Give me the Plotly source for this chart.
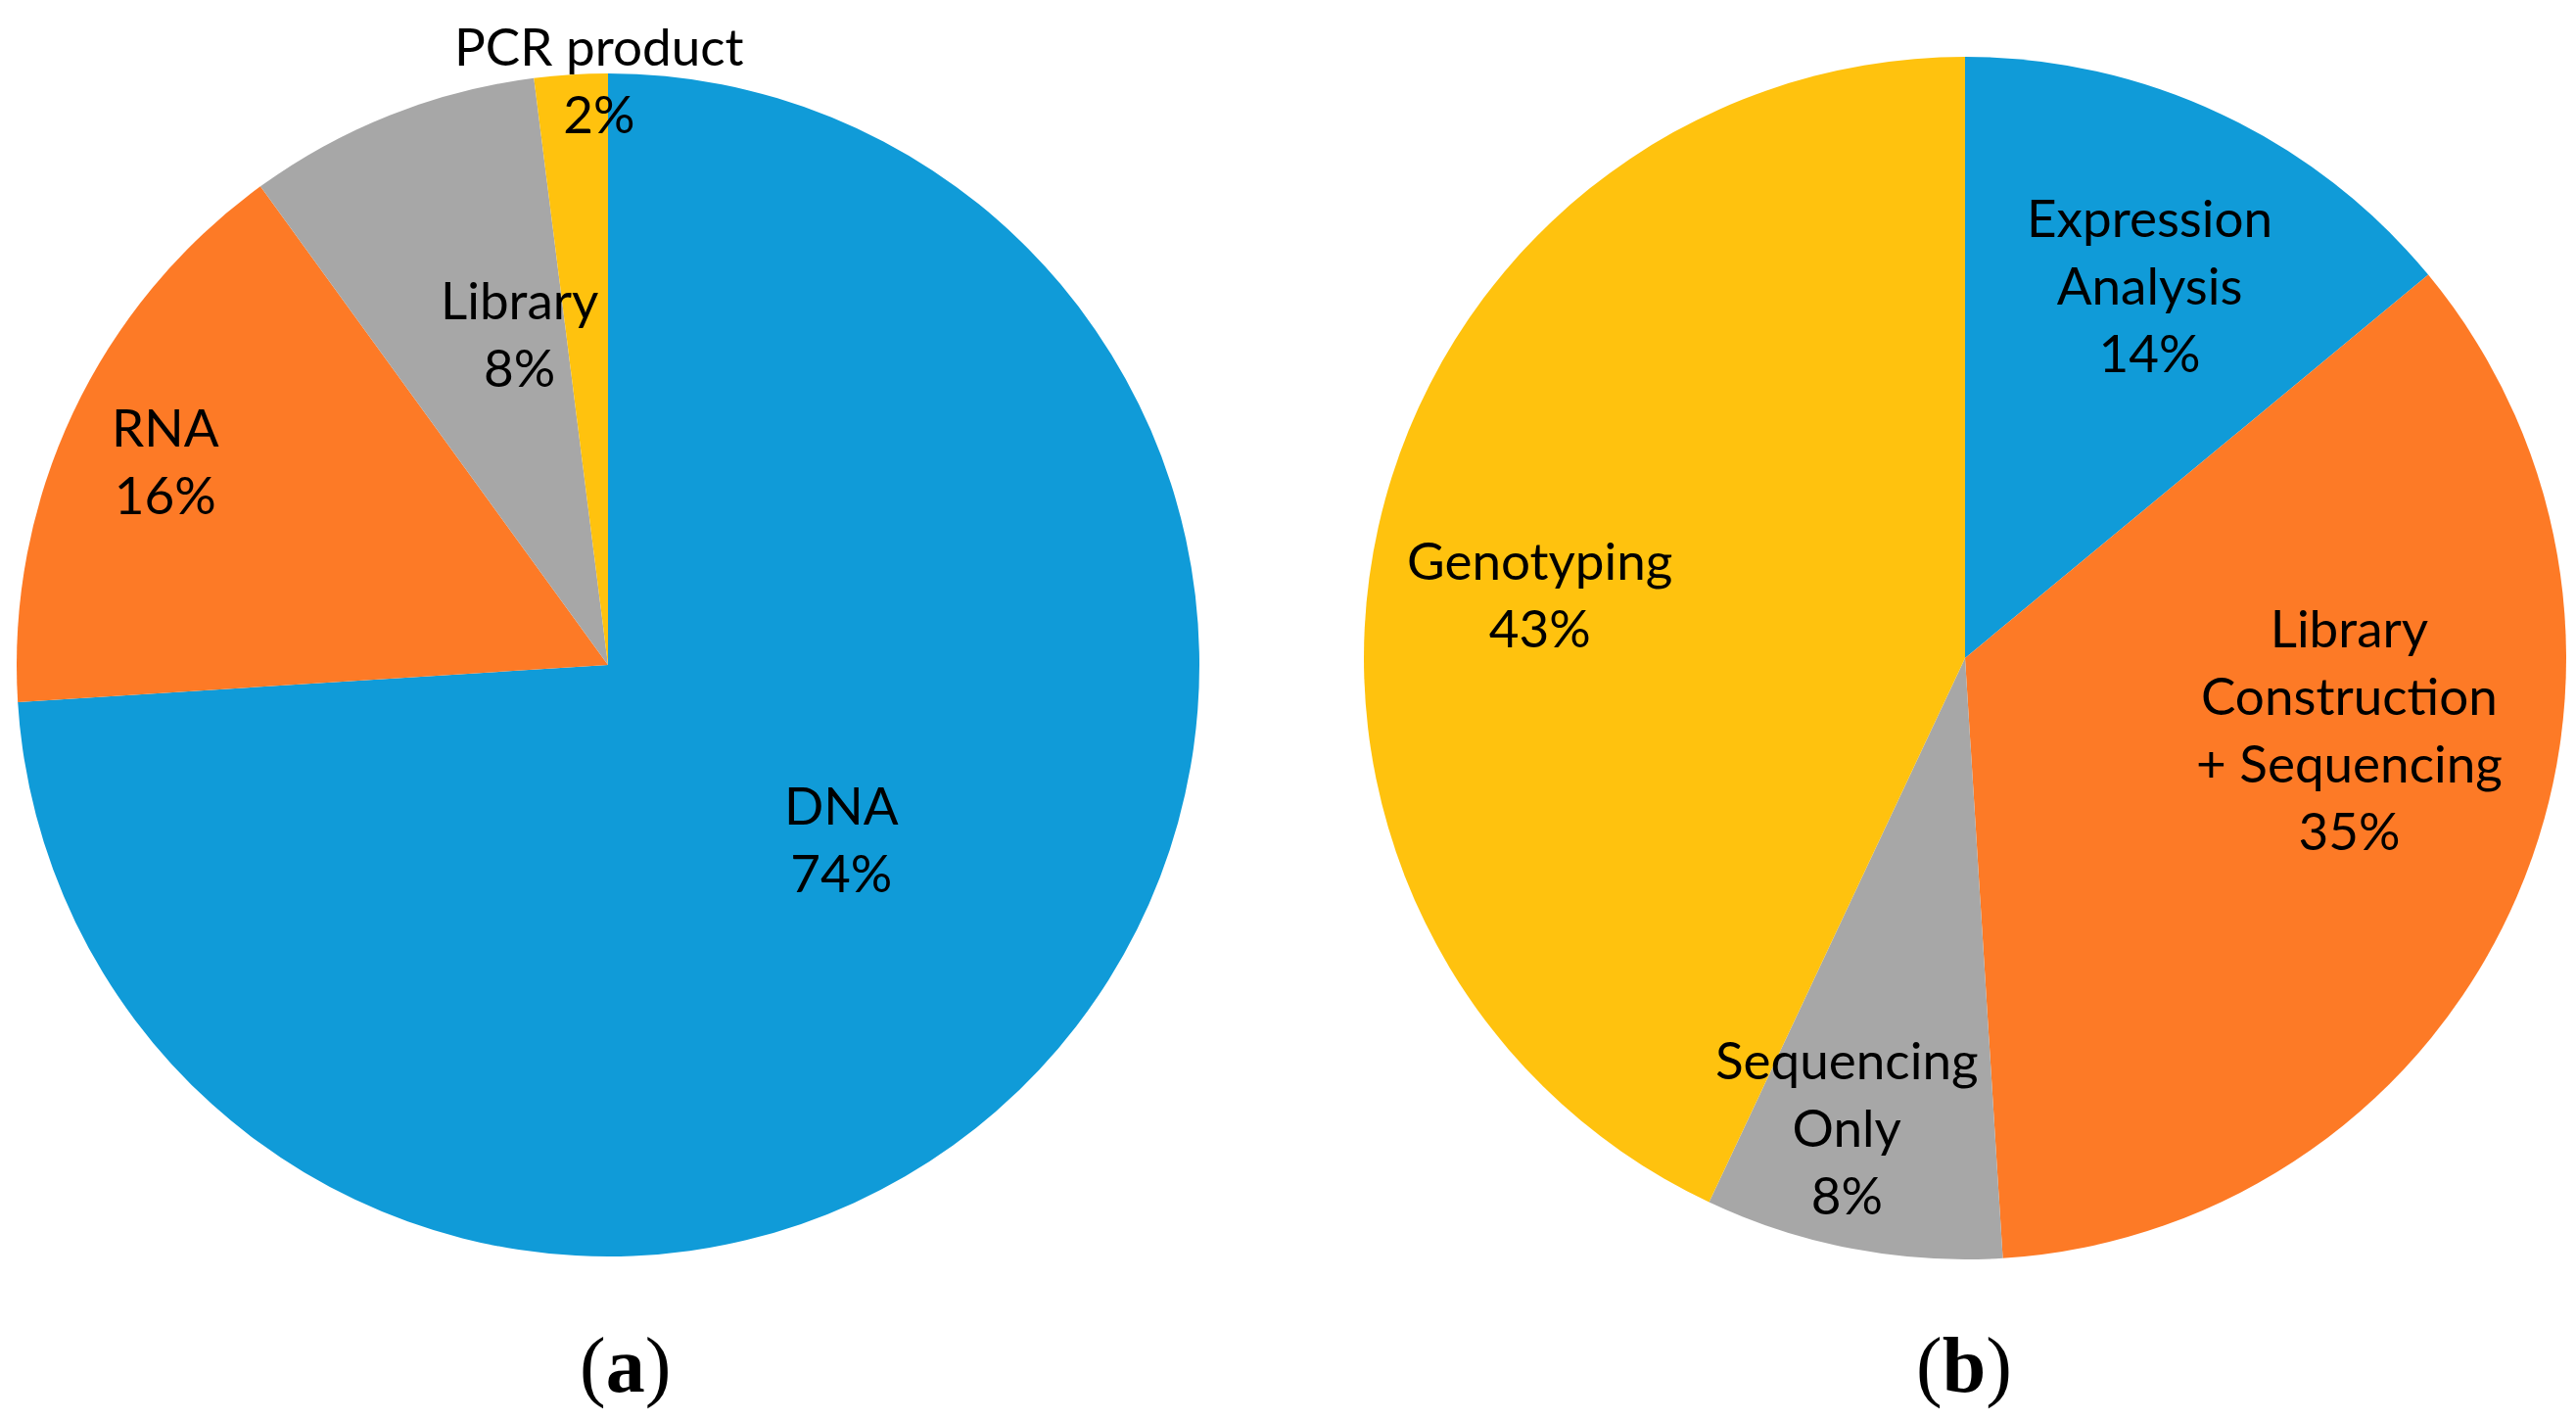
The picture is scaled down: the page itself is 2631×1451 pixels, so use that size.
import plotly.graph_objects as go

W, H = 2631, 1451

# ---- data ----
left_labels = ["DNA", "RNA", "Library", "PCR product"]
left_values = [74, 16, 8, 2]
right_labels = ["Expression<br>Analysis", "Library<br>Construction<br>+ Sequencing",
                "Sequencing<br>Only", "Genotyping"]
right_values = [14, 35, 8, 43]
panel_titles = ["(<b>a</b>)", "(<b>b</b>)"]

# ---- styles ----
left_colors = ["#109bd8", "#fd7a26", "#a7a7a7", "#ffc20e"]
right_colors = ["#109bd8", "#fd7a26", "#a7a7a7", "#ffc20e"]
# pie geometry in pixels: (cx, cy, r)
left_geom = (613, 671, 604)
right_geom = (1999, 664, 614)
# label centres in pixels
left_label_pos = [(851, 848), (161, 462), (522, 332), (604, 73)]
right_label_pos = [(2187, 282), (2391, 736), (1878, 1142), (1564, 598)]
title_pos = [(630, 1386), (1998, 1386)]
FONT = "Lato"
FONT_SIZE = 53


def domain(geom):
    cx, cy, r = geom
    return dict(x=[(cx - r) / W, (cx + r) / W],
                y=[1 - (cy + r) / H, 1 - (cy - r) / H])


fig = go.Figure()
for labels, values, colors, geom in [
    (left_labels, left_values, left_colors, left_geom),
    (right_labels, right_values, right_colors, right_geom),
]:
    fig.add_trace(go.Pie(
        labels=labels, values=values, sort=False, direction="clockwise",
        rotation=0, textinfo="none", hoverinfo="label+percent",
        marker=dict(colors=colors, line=dict(width=0)),
        domain=domain(geom), showlegend=False,
    ))

annotations = []
for labels, values, pos in [(left_labels, left_values, left_label_pos),
                            (right_labels, right_values, right_label_pos)]:
    for lab, val, (px, py) in zip(labels, values, pos):
        annotations.append(dict(
            x=px / W, y=1 - py / H, xref="paper", yref="paper",
            text=f"{lab}<br>{val}%", showarrow=False,
            xanchor="center", yanchor="middle", align="center",
            font=dict(family=FONT, size=FONT_SIZE, color="#000000"),
        ))
for t, (px, py) in zip(panel_titles, title_pos):
    annotations.append(dict(
        x=px / W, y=1 - py / H, xref="paper", yref="paper", text=t,
        showarrow=False, xanchor="center", yanchor="middle",
        font=dict(family="Liberation Serif", size=80, color="#000000"),
    ))

fig.update_layout(
    width=W, height=H, margin=dict(l=0, r=0, t=0, b=0),
    paper_bgcolor="white", plot_bgcolor="white",
    annotations=annotations,
)
fig.write_html("out.html")
